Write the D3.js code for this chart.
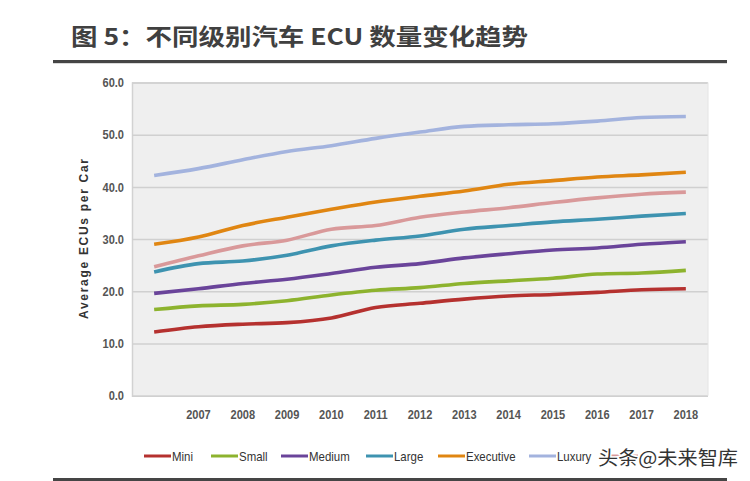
<!DOCTYPE html>
<html><head><meta charset="utf-8">
<script src="https://cdn.jsdelivr.net/npm/d3@7"></script>
<style>
html,body{margin:0;padding:0;background:#fff;}
svg{display:block;}
</style></head>
<body>
<svg id="chart" width="750" height="481"></svg>
<script>
const years = ["2006","2007","2008","2009","2010","2011","2012","2013","2014","2015","2016","2017","2018"];
const tickLabels = ["","2007","2008","2009","2010","2011","2012","2013","2014","2015","2016","2017","2018"];
const yTicks = [0,10,20,30,40,50,60];
const mini      = [12.2,13.2,13.7,14.0,14.9,16.9,17.7,18.5,19.1,19.4,19.8,20.3,20.5];
const small     = [16.5,17.2,17.5,18.2,19.3,20.2,20.7,21.5,22.0,22.5,23.3,23.5,24.0];
const medium    = [19.6,20.5,21.5,22.3,23.4,24.6,25.3,26.4,27.2,27.9,28.3,29.0,29.5];
const large     = [23.7,25.3,25.8,26.9,28.7,29.8,30.6,31.9,32.6,33.3,33.8,34.4,34.9];
const premium   = [24.7,26.8,28.7,29.8,31.9,32.6,34.2,35.2,36.0,37.0,37.9,38.6,39.0];
const executive = [29.0,30.4,32.6,34.2,35.7,37.1,38.2,39.2,40.5,41.2,41.9,42.3,42.8];
const luxury    = [42.2,43.5,45.2,46.8,47.9,49.3,50.5,51.6,51.9,52.1,52.6,53.3,53.5];
const seriesNames = ["Mini","Small","Medium","Large","Executive","Luxury","Premium"];
const seriesColors = ["#b5312f","#8db32e","#6a449a","#3e93b0","#e08612","#a3b3de","#d9999a"];
const seriesValues = [mini,small,medium,large,executive,luxury,premium];
const titleText = "图 5：不同级别汽车 ECU 数量变化趋势";
const yTitle = "Average ECUs per Car";
const watermark = "头条@未来智库";

const svg = d3.select("#chart");
const sans = "'Liberation Sans',Arial,sans-serif";
function squeeze(sel, f){
  sel.each(function(){
    const w = this.getComputedTextLength();
    if (w > 0) d3.select(this).attr("textLength", w*f).attr("lengthAdjust","spacingAndGlyphs");
  });
}

// Title
svg.append("text").attr("x",71).attr("y",45)
  .attr("font-family","'Noto Sans CJK SC','Microsoft YaHei',sans-serif")
  .attr("font-weight","bold").attr("font-size",23).attr("fill","#404040")
  .attr("textLength",457).attr("lengthAdjust","spacingAndGlyphs")
  .text(titleText);
svg.append("rect").attr("x",53).attr("y",60).attr("width",674).attr("height",3.2).attr("fill","#454545");
svg.append("rect").attr("x",53).attr("y",478).attr("width",674).attr("height",4).attr("fill","#454545");

const L=132, R=708, T=82.5, B=395.7;
const x = d3.scaleBand().domain(years).range([L,R]);
const y = d3.scaleLinear().domain([0,60]).range([B,T]);

svg.append("rect").attr("x",L).attr("y",T).attr("width",R-L).attr("height",B-T).attr("fill","#efefef");

// grid
const yAxis = d3.axisLeft(y).tickValues(yTicks).tickSize(-(R-L)).tickFormat(d3.format(".1f")).tickPadding(8);
const gy = svg.append("g").attr("transform",`translate(${L},0)`).call(yAxis);
gy.select(".domain").attr("stroke","#d2d2d2").attr("stroke-width",1.5);
gy.selectAll(".tick line").attr("stroke","#d0d0d0").attr("stroke-width",1.5);
gy.selectAll(".tick text").attr("font-family",sans).attr("font-weight","bold")
  .attr("font-size",13).attr("fill","#555");
squeeze(gy.selectAll(".tick text"), 0.85);
svg.append("line").attr("x1",R).attr("x2",R).attr("y1",T).attr("y2",B).attr("stroke","#e4e4e4").attr("stroke-width",1);

const xAxis = d3.axisBottom(x).tickSize(0).tickPadding(14).tickFormat((d,i)=>tickLabels[i]);
const gx = svg.append("g").attr("transform",`translate(0,${B})`).call(xAxis);
gx.select(".domain").remove();
gx.selectAll(".tick text").attr("font-family",sans).attr("font-weight","bold")
  .attr("font-size",13).attr("fill","#555");
squeeze(gx.selectAll(".tick text"), 0.85);

svg.append("text").attr("transform",`translate(88,239) rotate(-90)`).attr("text-anchor","middle")
  .attr("font-family",sans).attr("font-weight","bold")
  .attr("font-size",12).attr("fill","#333")
  .attr("textLength",160).attr("lengthAdjust","spacing").text(yTitle);

// lines
const line = d3.line().x((d,i)=>x(years[i])+x.bandwidth()/2).y(d=>y(d)).curve(d3.curveMonotoneX);
const order = [6,5,4,3,2,1,0];
order.forEach(k=>{
  svg.append("path").datum(seriesValues[k]).attr("d",line).attr("fill","none")
    .attr("stroke",seriesColors[k]).attr("stroke-width",3.6).attr("stroke-linejoin","round");
});

// legend
const legX = [144,211,281,366,438,529,611];
const lg = svg.append("g");
seriesNames.forEach((n,i)=>{
  const g = lg.append("g").attr("transform",`translate(${legX[i]},456)`);
  g.append("line").attr("x1",0).attr("x2",27).attr("y1",0).attr("y2",0).attr("stroke",seriesColors[i]).attr("stroke-width",3);
  if(i<6) g.append("text").attr("x",28).attr("y",4.5).attr("font-family",sans).attr("font-size",13)
    .attr("fill","#333").text(n);
});
squeeze(lg.selectAll("text"), 0.88);
svg.append("text").attr("x",598).attr("y",465).attr("font-family","'Noto Sans CJK SC',sans-serif")
  .attr("font-size",19).attr("fill","#333").attr("stroke","#fff").attr("stroke-width",3)
  .attr("paint-order","stroke").attr("textLength",140).attr("lengthAdjust","spacingAndGlyphs").text(watermark);
</script>
</body></html>
